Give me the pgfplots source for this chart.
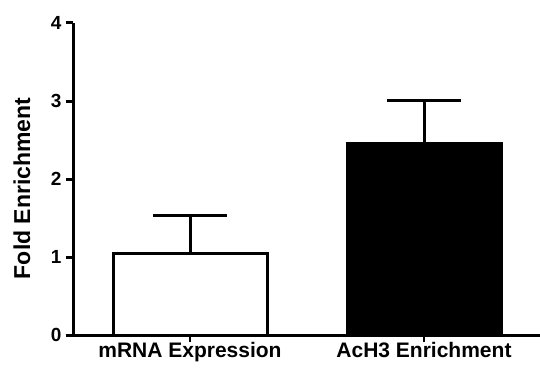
\documentclass[border=0pt]{standalone}
\usepackage{fontspec}
\setmainfont{Liberation Sans}
\usepackage{pgfplots}
\pgfplotsset{compat=1.18}
\begin{document}
\begin{tikzpicture}
\begin{axis}[
  scale only axis, width=468pt, height=312pt,
  xmin=-0.5, xmax=1.5, ymin=0, ymax=4,
  axis lines=left,
  axis line style={-, line width=3pt},
  xtick={0,1}, xticklabels={mRNA Expression, AcH3 Enrichment},
  ytick={0,1,2,3,4},
  tick align=outside,
  major tick length=7pt,
  ytick style={line width=3pt, black},
  xtick style={line width=2pt, black},
  /pgf/number format/assume math mode=true,
  yticklabel style={font=\fontsize{19}{22}\selectfont\bfseries, xshift=-1pt},
  xticklabel style={font=\fontsize{21}{24}\selectfont\bfseries, yshift=3pt},
  ylabel={Fold Enrichment},
  ylabel style={font=\fontsize{23}{27}\selectfont\bfseries, at={(axis description cs:-0.109,0.47)}, anchor=center},
  clip=false,
]
\addplot[ybar, bar width=154pt, bar shift=0pt, fill=white, draw=black, line width=3pt,
  error bars/.cd, y dir=plus, y explicit, error mark=|,
  error bar style={line width=3pt, black},
  error mark options={line width=3pt, mark size=37pt, black}]
  coordinates {(0,1.05) +- (0,0.48)};
\addplot[ybar, bar width=154pt, bar shift=0pt, fill=black, draw=black, line width=3pt,
  error bars/.cd, y dir=plus, y explicit, error mark=|,
  error bar style={line width=3pt, black},
  error mark options={line width=3pt, mark size=37pt, black}]
  coordinates {(1,2.46) +- (0,0.55)};
\end{axis}
\pgfresetboundingbox
\useasboundingbox (current axis.south west) ++(-73pt,-35pt) rectangle ++(540pt,370pt);
\end{tikzpicture}
\end{document}
